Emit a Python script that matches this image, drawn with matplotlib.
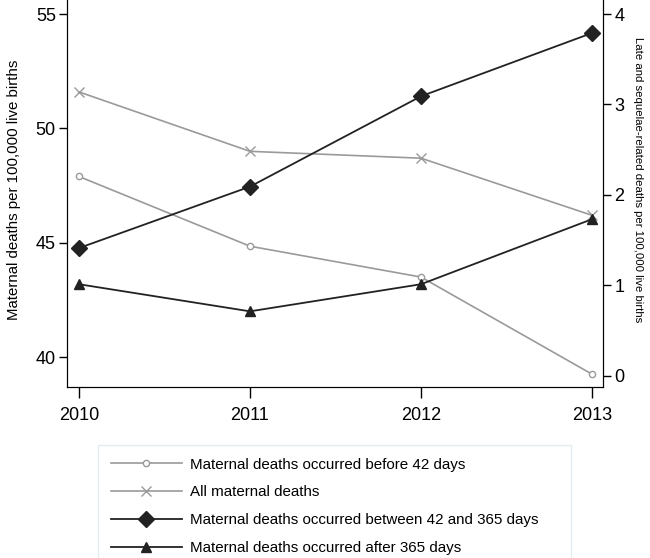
import matplotlib.pyplot as plt

plt.rcParams['font.family'] = ['Liberation Sans', 'DejaVu Sans']

years = [2010, 2011, 2012, 2013]
before_42 = [47.9, 44.85, 43.5, 39.25]
all_deaths = [51.6, 49.0, 48.7, 46.2]
between_42_365 = [1.41, 2.09, 3.09, 3.79]
after_365 = [1.01, 0.71, 1.01, 1.73]

light = '#9a9a9a'
dark = '#222222'

fig = plt.figure(figsize=(6.5, 5.58), dpi=100)
ax = fig.add_axes([0.103, 0.306, 0.825, 0.694])
ax2 = ax.twinx()

l1, = ax.plot(years, before_42, color=light, lw=1.2, marker='o', ms=4.5,
              mfc='white', mec=light, mew=1.0)
l2, = ax.plot(years, all_deaths, color=light, lw=1.2, marker='x', ms=7.5, mew=1.0)
l3, = ax2.plot(years, between_42_365, color=dark, lw=1.3, marker='D', ms=8)
l4, = ax2.plot(years, after_365, color=dark, lw=1.3, marker='^', ms=7.5)

ax.set_xlim(2009.93, 2013.065)
ax.set_ylim(38.68, 55.62)
ax2.set_ylim(-0.13, 4.155)
ax.set_xticks(years)
ax.set_yticks([40, 45, 50, 55])
ax2.set_yticks([0, 1, 2, 3, 4])

for a in (ax, ax2):
    a.spines['top'].set_visible(False)
    a.tick_params(labelsize=13, width=1.0, length=6, color='black')
ax.tick_params(axis='x', length=8, pad=6)
ax.tick_params(axis='y', pad=2)
ax2.tick_params(axis='y', pad=2)

ax.set_ylabel('Maternal deaths per 100,000 live births', fontsize=10.8, labelpad=5)
ax.yaxis.set_label_coords(-0.085, 0.51)
ax2.set_ylabel('Late and sequelae-related deaths per 100,000 live births',
               fontsize=8.2, rotation=270, labelpad=8)
ax2.yaxis.set_label_coords(1.075, 0.535)

leg = fig.legend([l1, l2, l3, l4],
                 ['Maternal deaths occurred before 42 days',
                  'All maternal deaths',
                  'Maternal deaths occurred between 42 and 365 days',
                  'Maternal deaths occurred after 365 days'],
                 loc='upper left', bbox_to_anchor=(0.151, 0.0, 0.728, 0.2025),
                 mode='expand', fancybox=False, fontsize=10.9,
                 handlelength=4.7, handletextpad=0.55, labelspacing=0.92,
                 borderpad=0.83, borderaxespad=0, frameon=True)
leg.get_frame().set_edgecolor('#dce8ec')
leg.get_frame().set_linewidth(1.0)

fig.savefig('out.png', dpi=100)
